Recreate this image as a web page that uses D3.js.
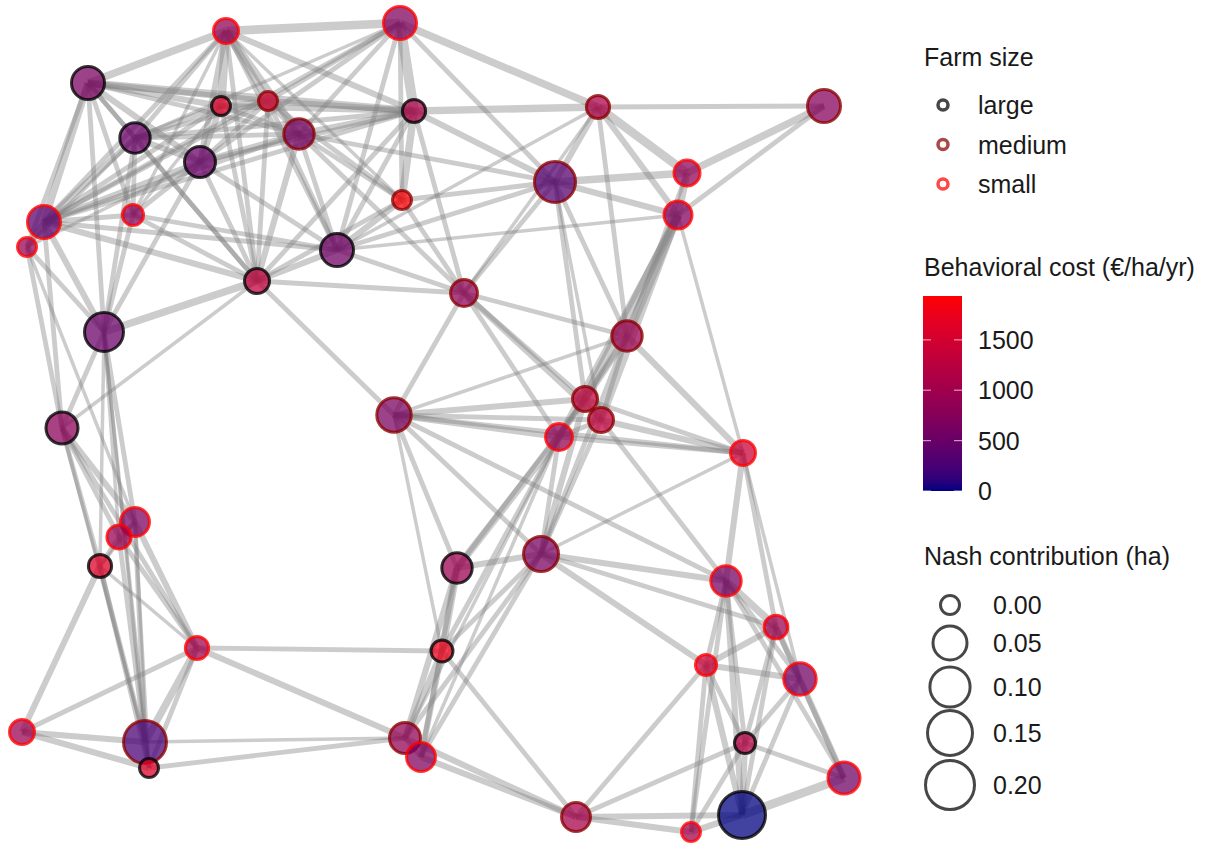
<!DOCTYPE html>
<html>
<head>
<meta charset="utf-8">
<script src="https://cdn.jsdelivr.net/npm/d3@7"></script>
<style>
  html, body { margin: 0; padding: 0; background: #fff; }
  svg { display: block; font-family: "Liberation Sans", Arial, sans-serif; }
</style>
</head>
<body>
<svg id="chart" width="1225" height="846"></svg>
<script>
// node layout coordinates (force layout output, arbitrary units)
const nodeX = [226,400,88,221,268,414,135,299,200,598,824,555,687,678,402,44,133,27,337,257,464,104,627,394,62,585,601,559,743,135,119,100,457,541,726,776,197,442,706,800,22,145,149,405,421,745,844,576,691,742];
const nodeY = [31,23,83,106,101,111,138,134,162,107,106,182,173,215,200,222,215,247,250,281,293,332,336,415,428,399,420,437,453,522,537,566,568,554,581,627,648,651,665,679,732,742,768,738,757,743,778,817,832,815];
// behavioral cost (€/ha/yr)
const nodeCost = [850,700,650,1600,1500,1100,500,600,500,1100,750,350,850,700,1900,400,750,900,550,1300,850,500,950,650,800,1300,1300,850,1400,650,900,1600,950,650,600,950,1000,1750,1400,550,950,250,1600,850,700,1200,550,1050,1000,0];
// Nash contribution (ha)
const nodeContribution = [0.008,0.044,0.044,0.000,0.000,0.004,0.029,0.029,0.032,0.004,0.044,0.108,0.011,0.018,0.000,0.044,0.001,0.000,0.044,0.008,0.014,0.089,0.029,0.053,0.038,0.008,0.008,0.014,0.008,0.022,0.006,0.004,0.029,0.057,0.029,0.005,0.004,0.002,0.001,0.040,0.008,0.128,0.000,0.032,0.022,0.001,0.038,0.022,0.000,0.174];
const nodeFarm = ['small','small','large','large','medium','large','large','medium','large','medium','medium','medium','small','small','medium','small','small','small','large','large','medium','large','medium','medium','large','medium','medium','small','small','small','small','large','large','medium','small','small','small','large','small','small','small','medium','large','medium','small','large','small','medium','small','large'];

// edges: [source node, target node, weight] (1-based node numbers)
const edgeList = [
  [3,1,5],[3,4,4],[3,5,4],[3,6,5],[3,7,3],[3,9,4],[3,8,3],[3,16,5],[3,18,3],[3,17,3],[3,22,3],[3,20,3],
  [1,2,6],[1,4,6],[1,5,5],[1,7,3],[1,9,4],[1,8,5],[1,16,3],[1,20,3],[1,6,4],[1,19,3],[1,17,2],[1,15,2],
  [2,6,7],[2,5,3],[2,8,3],[2,16,3],[2,9,3],[2,7,2],[2,10,5],[2,12,3],[2,19,3],[2,15,3],
  [4,5,4],[4,7,4],[4,9,4],[4,16,3],[4,8,3],[4,6,4],[4,20,3],[4,17,2],
  [5,7,3],[5,9,3],[5,16,3],[5,6,4],[5,8,4],[5,19,3],[5,15,3],[5,20,3],
  [6,10,5],[6,12,4],[6,15,5],[6,19,3],[6,21,3],[6,20,3],[6,8,4],[6,16,3],[6,9,3],[6,7,3],
  [7,9,4],[7,16,4],[7,17,3],[7,8,3],[7,22,3],[7,20,3],[7,18,2],
  [8,9,4],[8,16,3],[8,20,4],[8,19,3],[8,15,3],[8,12,3],[8,21,3],
  [9,16,4],[9,17,3],[9,22,3],[9,20,3],[9,19,3],[9,18,2],
  [16,18,4],[16,17,3],[16,22,4],[16,25,3],[16,20,4],[16,19,3],
  [17,22,3],[17,20,3],[17,19,3],
  [18,22,3],[18,25,3],[18,30,2],
  [19,20,4],[19,15,4],[19,21,3],[19,12,3],[19,10,2],[19,14,2],
  [20,22,5],[20,21,3],[20,24,3],[20,25,2],
  [15,21,3],[15,12,3],[15,20,3],
  [10,11,3],[10,12,4],[10,13,6],[10,14,4],[10,23,3],[10,21,2],
  [11,13,5],[11,14,3],
  [12,13,5],[12,14,4],[12,21,3],[12,23,3],[12,26,3],[12,27,2],
  [13,14,5],[13,23,3],
  [14,23,6],[14,26,6],[14,27,5],[14,28,4],[14,29,2],
  [21,23,3],[21,26,3],[21,27,4],[21,24,3],[21,28,3],
  [23,26,5],[23,27,3],[23,28,3],[23,29,4],[23,24,2],[23,34,3],
  [24,26,4],[24,27,3],[24,28,4],[24,29,3],[24,34,3],[24,33,3],[24,38,2],[24,35,3],
  [26,27,3],[26,28,4],[26,34,4],[26,33,3],[26,29,3],
  [27,28,3],[27,29,4],[27,34,3],[27,35,3],
  [28,33,5],[28,34,3],[28,29,3],[28,38,3],[28,44,2],[28,45,2],
  [29,35,4],[29,36,3],[29,34,2],[29,40,2],
  [34,33,4],[34,35,4],[34,36,3],[34,38,3],[34,44,3],[34,45,3],[34,39,4],
  [33,38,5],[33,44,4],[33,45,3],
  [22,25,3],[22,30,3],[22,31,2],[22,32,2],[22,42,2],[22,43,2],
  [25,30,4],[25,31,3],[25,32,3],[25,37,3],[25,42,2],
  [30,31,3],[30,37,4],[30,42,3],[30,32,2],[30,43,2],
  [31,32,3],[31,37,3],[31,42,3],
  [32,41,4],[32,42,3],[32,43,3],[32,37,2],
  [37,42,5],[37,43,3],[37,41,3],[37,38,3],[37,44,4],
  [41,42,4],[41,43,4],
  [42,43,3],[42,44,2],[43,44,3],
  [38,44,4],[38,45,4],[38,48,3],
  [44,45,3],[44,48,4],[45,48,4],
  [48,49,4],[48,50,4],[48,46,3],[48,39,3],
  [49,50,4],[49,39,3],[49,35,3],[49,46,3],
  [35,36,5],[35,39,3],[35,40,3],[35,46,3],[35,50,4],[35,47,3],
  [36,40,4],[36,39,4],[36,46,3],[36,50,3],[36,47,3],
  [39,40,4],[39,46,3],[39,50,4],
  [40,47,4],[40,46,3],[40,50,3],
  [46,50,4],[46,47,3],
  [47,50,6]
];

const farmLevels = ['large', 'medium', 'small'];
const costTicks = [0, 500, 1000, 1500];
const costMax = 1935;
const sizeBreaks = [0.00, 0.05, 0.10, 0.15, 0.20];

const FONT_SIZE = 25;
const TEXT_COLOR = '#1a1a1a';

const svg = d3.select('#chart');

const nodes = nodeX.map((x, i) => ({
    id: i + 1,
    x: x,
    y: nodeY[i],
    cost: nodeCost[i],
    contribution: nodeContribution[i],
    farm: nodeFarm[i]
}));
const byId = new Map(nodes.map(d => [d.id, d]));
const edges = edgeList.map(([s, t, w]) => ({ source: byId.get(s), target: byId.get(t), weight: w }));

const xScale = d3.scaleLinear().domain(d3.extent(nodeX)).range([22, 844]);
const yScale = d3.scaleLinear().domain(d3.extent(nodeY)).range([23, 832]);
const colorScale = d3.scaleLinear().domain([0, costMax]).range(['#000080', '#ff0000']).interpolate(d3.interpolateLab);
const sizeScale = d3.scaleSqrt().domain([0, 0.2]).range([9.5, 24.5]);
const widthScale = d3.scaleLinear().domain([1, 7]).range([2.2, 10]);
const strokeScale = d3.scaleOrdinal().domain(farmLevels).range(['#000000', '#8b0000', '#ff0000']);

// edges
svg.append('g')
    .selectAll('line')
    .data(edges)
    .enter()
    .append('line')
    .attr('x1', d => xScale(d.source.x))
    .attr('y1', d => yScale(d.source.y))
    .attr('x2', d => xScale(d.target.x))
    .attr('y2', d => yScale(d.target.y))
    .attr('stroke', '#808080')
    .attr('stroke-opacity', 0.4)
    .attr('stroke-width', d => widthScale(d.weight));

// nodes
svg.append('g')
    .selectAll('circle')
    .data(nodes)
    .enter()
    .append('circle')
    .attr('cx', d => xScale(d.x))
    .attr('cy', d => yScale(d.y))
    .attr('r', d => sizeScale(d.contribution))
    .attr('fill', d => colorScale(d.cost))
    .attr('fill-opacity', 0.74)
    .attr('stroke', d => strokeScale(d.farm))
    .attr('stroke-opacity', 0.78)
    .attr('stroke-width', 3);

// legends
const legend = svg.append('g').attr('transform', 'translate(924,0)');

function legendTitle(y, label) {
    legend.append('text')
        .attr('x', 0)
        .attr('y', y)
        .style('font-size', FONT_SIZE + 'px')
        .style('fill', TEXT_COLOR)
        .text(label);
}

// farm size
legendTitle(66, 'Farm size');
const farmItems = legend.selectAll('.farm-item')
    .data(farmLevels)
    .enter()
    .append('g')
    .attr('class', 'farm-item')
    .attr('transform', (d, i) => `translate(0, ${105 + i * 39.5})`);

farmItems.append('circle')
    .attr('cx', 19)
    .attr('r', 5)
    .attr('fill', 'none')
    .attr('stroke', d => strokeScale(d))
    .attr('stroke-opacity', 0.72)
    .attr('stroke-width', 3.5);

farmItems.append('text')
    .attr('x', 54)
    .attr('dy', '0.36em')
    .style('font-size', FONT_SIZE + 'px')
    .style('fill', TEXT_COLOR)
    .text(d => d);

// behavioral cost colour bar
legendTitle(276, 'Behavioral cost (€/ha/yr)');
const barTop = 296, barBottom = 491, barW = 39;
const barScale = d3.scaleLinear().domain([0, costMax]).range([barBottom, barTop]);

const grad = svg.append('defs').append('linearGradient')
    .attr('id', 'cost-grad')
    .attr('x1', 0).attr('y1', 1).attr('x2', 0).attr('y2', 0);
grad.selectAll('stop')
    .data(d3.range(0, 1.0001, 0.05))
    .enter()
    .append('stop')
    .attr('offset', d => d)
    .attr('stop-color', d => colorScale(d * costMax));

legend.append('rect')
    .attr('x', -1)
    .attr('y', barTop)
    .attr('width', barW)
    .attr('height', barBottom - barTop)
    .attr('fill', 'url(#cost-grad)');

const tickG = legend.selectAll('.cost-tick')
    .data(costTicks)
    .enter()
    .append('g')
    .attr('class', 'cost-tick')
    .attr('transform', d => `translate(0, ${barScale(d)})`);

tickG.append('line')
    .attr('x1', -1).attr('x2', 7)
    .attr('stroke', 'rgba(255,255,255,0.6)').attr('stroke-width', 1.2);
tickG.append('line')
    .attr('x1', barW - 9).attr('x2', barW - 1)
    .attr('stroke', 'rgba(255,255,255,0.6)').attr('stroke-width', 1.2);
tickG.append('text')
    .attr('x', 54)
    .attr('dy', '0.36em')
    .style('font-size', FONT_SIZE + 'px')
    .style('fill', TEXT_COLOR)
    .text(d => d);

// Nash contribution size legend
legendTitle(565, 'Nash contribution (ha)');
const sizeY = [605, 643, 687, 733, 785];
const sizeItems = legend.selectAll('.size-item')
    .data(sizeBreaks)
    .enter()
    .append('g')
    .attr('class', 'size-item')
    .attr('transform', (d, i) => `translate(0, ${sizeY[i]})`);

sizeItems.append('circle')
    .attr('cx', 26)
    .attr('r', d => sizeScale(d))
    .attr('fill', 'none')
    .attr('stroke', '#000')
    .attr('stroke-opacity', 0.72)
    .attr('stroke-width', 3);

sizeItems.append('text')
    .attr('x', 69)
    .attr('dy', '0.36em')
    .style('font-size', FONT_SIZE + 'px')
    .style('fill', TEXT_COLOR)
    .text(d => d.toFixed(2));
</script>
</body>
</html>
